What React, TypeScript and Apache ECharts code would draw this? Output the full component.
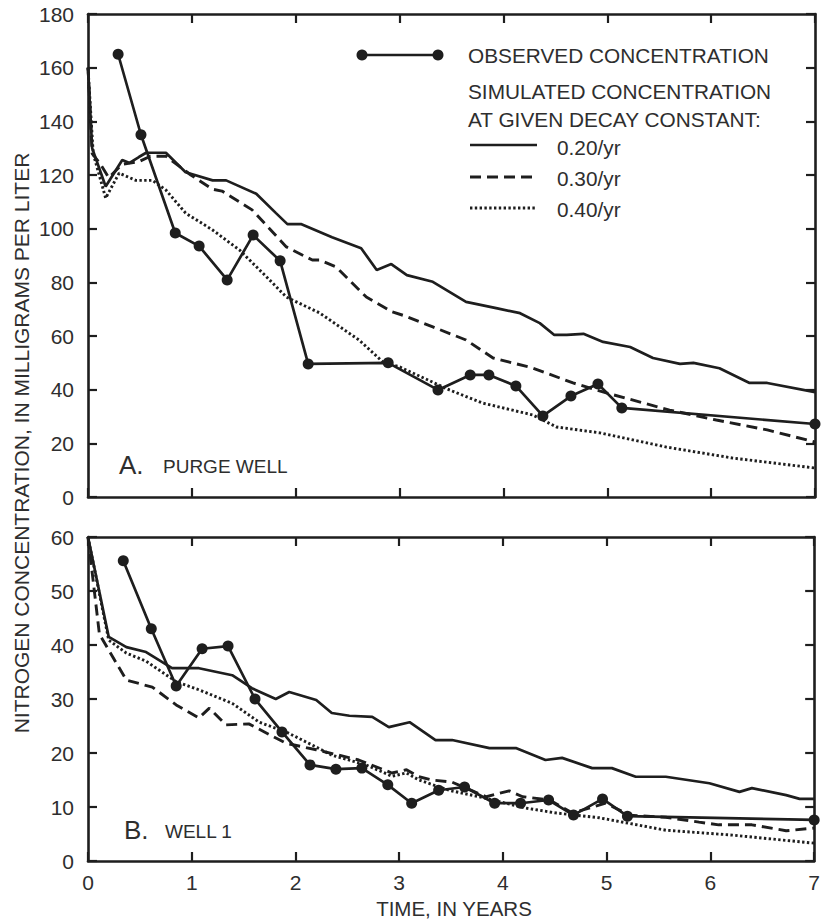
import React, { useEffect, useRef } from "react";
import * as echarts from "echarts";

// ---------- Panel A: purge well ----------
const obsA_t = [0.29, 0.51, 0.84, 1.07, 1.34, 1.59, 1.85, 2.12, 2.89, 3.37, 3.68, 3.86, 4.12, 4.38, 4.65, 4.91, 5.14, 7.0];
const obsA_v = [165, 135, 98.4, 93.5, 80.9, 97.6, 88, 49.6, 50, 39.9, 45.5, 45.5, 41.4, 30.2, 37.6, 42.1, 33.2, 27.2];

const k20A_t = [0, 0.04, 0.17, 0.33, 0.4, 0.49, 0.56, 0.75, 0.94, 1.2, 1.33, 1.62, 1.81, 1.92, 2.05, 2.35, 2.63, 2.78, 2.92, 3.07, 3.32, 3.64, 3.93, 4.16, 4.35, 4.49, 4.61, 4.77, 4.96, 5.22, 5.44, 5.7, 5.83, 6.08, 6.37, 6.54, 7.0];
const k20A_v = [160, 130, 115.7, 125.6, 124.5, 126.7, 128.3, 128.3, 121, 118, 118, 113, 105.8, 101.7, 101.7, 96.8, 92.7, 84.6, 86.8, 82.7, 80.2, 72.7, 70.4, 68.5, 64.8, 60.4, 60.4, 60.8, 57.8, 55.9, 51.8, 49.6, 50, 48, 42.5, 42.5, 39.1];

const k30A_t = [0, 0.04, 0.12, 0.2, 0.33, 0.49, 0.6, 0.75, 0.99, 1.2, 1.29, 1.58, 1.91, 2.16, 2.23, 2.39, 2.68, 2.93, 3.05, 3.32, 3.64, 3.9, 4.28, 4.67, 4.99, 5.6, 6.05, 6.54, 7.0];
const k30A_v = [160, 128, 124, 119, 124, 125, 127, 127, 120, 114.7, 114, 107, 93.2, 88.3, 88.3, 85.7, 74.5, 69, 67.5, 63.4, 58.5, 51.8, 48.1, 42.5, 38.8, 32.4, 28.7, 25, 20.5];

const k40A_t = [0, 0.05, 0.17, 0.3, 0.46, 0.62, 0.75, 0.94, 1.2, 1.46, 1.72, 1.91, 2.23, 2.61, 2.84, 3.0, 3.48, 3.8, 4.28, 4.51, 4.93, 5.57, 6.21, 7.0];
const k40A_v = [160, 128, 111.4, 120.7, 118, 118, 114.4, 105.8, 99.5, 92, 82, 74.5, 68.6, 58.5, 50.3, 48.5, 39.9, 35, 30.6, 26.1, 23.9, 18.6, 14.5, 10.8];

// ---------- Panel B: well 1 ----------
const obsB_t = [0.34, 0.61, 0.85, 1.1, 1.35, 1.61, 1.87, 2.14, 2.39, 2.64, 2.89, 3.12, 3.38, 3.63, 3.92, 4.17, 4.44, 4.68, 4.96, 5.2, 7.0];
const obsB_v = [55.6, 43, 32.4, 39.3, 39.8, 30, 23.9, 17.8, 17, 17.2, 14.1, 10.7, 13.1, 13.7, 10.7, 10.7, 11.3, 8.5, 11.5, 8.3, 7.6];

const k20B_t = [0, 0.2, 0.37, 0.56, 0.81, 1.07, 1.39, 1.58, 1.81, 1.94, 2.2, 2.35, 2.52, 2.74, 2.9, 3.1, 3.35, 3.51, 3.87, 4.13, 4.41, 4.57, 4.86, 5.05, 5.28, 5.57, 5.99, 6.28, 6.4, 6.73, 6.86, 7.0];
const k20B_v = [60, 41.5, 39.6, 38.7, 35.7, 35.7, 34.4, 32, 30, 31.3, 29.8, 27.4, 26.9, 26.7, 24.8, 25.7, 22.4, 22.4, 20.9, 20.9, 18.7, 19.1, 17.2, 17.2, 15.6, 15.6, 14.4, 12.8, 13.5, 12.2, 11.5, 11.5];

const k30B_t = [0, 0.11, 0.37, 0.62, 0.85, 1.07, 1.17, 1.33, 1.55, 1.91, 2.2, 2.42, 2.61, 2.93, 3.07, 3.19, 3.32, 3.51, 3.84, 4.06, 4.19, 4.45, 4.67, 4.99, 5.22, 5.57, 5.89, 6.08, 6.4, 6.73, 7.0];
const k30B_v = [60, 42, 33.5, 32.2, 28.9, 26.5, 28.3, 25.2, 25.4, 21.8, 20.6, 19.6, 18.7, 16.3, 16.9, 15.6, 15, 14.6, 11.9, 13, 11.9, 11.3, 8.9, 10.7, 8.5, 8.1, 7.2, 6.7, 6.7, 5.6, 6.1];

const k40B_t = [0, 0.2, 0.37, 0.56, 0.85, 1.07, 1.39, 1.65, 1.91, 2.2, 2.35, 2.68, 2.93, 3.07, 3.19, 3.48, 3.77, 4.22, 4.51, 4.93, 5.57, 6.21, 7.0];
const k40B_v = [60, 40.9, 38.5, 37, 33.2, 31.7, 29.2, 25.7, 23.9, 21.1, 19.6, 17.8, 15.7, 16.3, 15, 13.1, 11.9, 9.8, 8.9, 8, 5.7, 4.8, 3.3];

const xTicks = [0, 1, 2, 3, 4, 5, 6, 7];
const legendObserved = "OBSERVED CONCENTRATION";
const legendSim1 = "SIMULATED CONCENTRATION";
const legendSim2 = "AT GIVEN DECAY CONSTANT:";
const decayLabels = ["0.20/yr", "0.30/yr", "0.40/yr"];

const INK = "#1e1e1e";
const TXT = "#2e2e2e";
const FONT = "'Liberation Sans', Arial, Helvetica, sans-serif";
const DASH = [11, 6];
const DOT = [2.4, 2.4];

const pairs = (t: number[], v: number[]) => t.map((x, i) => [x, v[i]]);

export default function App() {
  const ref = useRef<HTMLDivElement>(null);
  useEffect(() => {
    if (!ref.current) return;
    const chart = echarts.init(ref.current, null, { renderer: "svg" });

    const axisLine = { show: true, onZero: false, lineStyle: { color: INK, width: 2.6 } };
    const tick = { show: true, inside: true, length: 9, lineStyle: { color: INK, width: 2.2 } };
    const xBase = (grid: number, pos: string, labels: boolean) => ({
      type: "value",
      gridIndex: grid,
      position: pos,
      min: 0,
      max: 7,
      interval: 1,
      axisLine,
      axisTick: tick,
      splitLine: { show: false },
      axisLabel: {
        show: labels,
        color: TXT,
        fontSize: 21,
        fontFamily: FONT,
        margin: 11,
        formatter: (v: number) => (xTicks.includes(v) ? String(v) : ""),
      },
    });
    const yBase = (grid: number, pos: string, max: number, step: number, labels: boolean) => ({
      type: "value",
      gridIndex: grid,
      position: pos,
      min: 0,
      max,
      interval: step,
      axisLine,
      axisTick: tick,
      splitLine: { show: false },
      axisLabel: { show: labels, color: TXT, fontSize: 21, fontFamily: FONT, margin: 14 },
    });

    const simLine = (name: string, t: number[], v: number[], type: any, grid: number) => ({
      name,
      type: "line",
      xAxisIndex: grid * 2,
      yAxisIndex: grid * 2,
      data: pairs(t, v),
      symbol: "none",
      lineStyle: { color: INK, width: type === "solid" ? 2.7 : 2.9, type },
      z: 3,
    });
    const obsLine = (t: number[], v: number[], grid: number) => ({
      name: "observed",
      type: "line",
      xAxisIndex: grid * 2,
      yAxisIndex: grid * 2,
      data: pairs(t, v),
      symbol: "circle",
      symbolSize: 11,
      itemStyle: { color: INK },
      lineStyle: { color: INK, width: 2.7 },
      z: 4,
    });

    const txt = (text: string, x: number, y: number, size: number, extra: any = {}) => ({
      type: "text",
      x,
      y,
      style: { text, fill: TXT, fontSize: size, fontFamily: FONT, verticalAlign: "middle", align: "left", ...extra },
    });
    const legLine = (y: number, dash: any) => ({
      type: "line",
      shape: { x1: 470, y1: y, x2: 537, y2: y },
      style: { stroke: INK, lineWidth: dash ? 2.9 : 2.7, lineDash: dash },
    });

    chart.setOption({
      animation: false,
      backgroundColor: "#fff",
      grid: [
        { left: 88, top: 14, width: 727, height: 483 },
        { left: 88, top: 537, width: 727, height: 324 },
      ],
      xAxis: [
        xBase(0, "bottom", false),
        xBase(0, "top", false),
        xBase(1, "bottom", true),
        xBase(1, "top", false),
      ],
      yAxis: [
        yBase(0, "left", 180, 20, true),
        yBase(0, "right", 180, 20, false),
        yBase(1, "left", 60, 10, true),
        yBase(1, "right", 60, 10, false),
      ],
      series: [
        simLine("0.20/yr A", k20A_t, k20A_v, "solid", 0),
        simLine("0.30/yr A", k30A_t, k30A_v, DASH, 0),
        simLine("0.40/yr A", k40A_t, k40A_v, DOT, 0),
        obsLine(obsA_t, obsA_v, 0),
        simLine("0.20/yr B", k20B_t, k20B_v, "solid", 1),
        simLine("0.30/yr B", k30B_t, k30B_v, DASH, 1),
        simLine("0.40/yr B", k40B_t, k40B_v, DOT, 1),
        obsLine(obsB_t, obsB_v, 1),
      ],
      graphic: [
        // legend
        {
          type: "line",
          shape: { x1: 362, y1: 55, x2: 438, y2: 55 },
          style: { stroke: INK, lineWidth: 2.7 },
        },
        { type: "circle", shape: { cx: 362, cy: 55, r: 5.5 }, style: { fill: INK } },
        { type: "circle", shape: { cx: 438, cy: 55, r: 5.5 }, style: { fill: INK } },
        txt(legendObserved, 468, 55, 20.8),
        txt(legendSim1, 468, 91, 20.8),
        txt(legendSim2, 468, 119, 20.8),
        legLine(145, null),
        legLine(177, DASH),
        legLine(208, DOT),
        txt(decayLabels[0], 557, 147, 20.8),
        txt(decayLabels[1], 557, 178, 20.8),
        txt(decayLabels[2], 557, 209, 20.8),
        // panel labels
        txt("A.", 119, 465, 26),
        txt("PURGE WELL", 163, 466, 19),
        txt("B.", 124, 830, 26),
        txt("WELL 1", 165, 831, 19),
        // axis titles
        txt("TIME, IN YEARS", 454, 908, 20.5, { align: "center" }),
        {
          type: "text",
          x: 21,
          y: 443,
          rotation: Math.PI / 2,
          style: {
            text: "NITROGEN CONCENTRATION, IN MILLIGRAMS PER LITER",
            fill: TXT,
            fontSize: 21,
            fontFamily: FONT,
            align: "center",
            verticalAlign: "middle",
          },
        },
      ],
    });
    return () => chart.dispose();
  }, []);
  return (
    <div
      ref={ref}
      style={{ position: "fixed", left: 0, top: 0, width: 823, height: 921, background: "#fff" }}
    />
  );
}
